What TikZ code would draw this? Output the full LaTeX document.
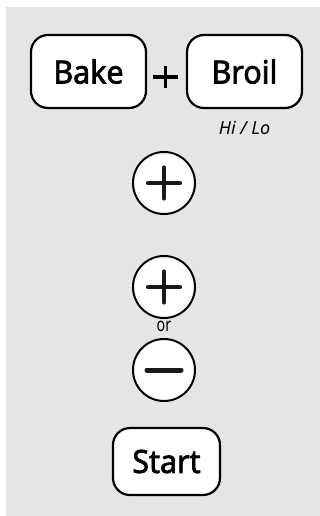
\documentclass[tikz,border=0pt]{standalone}
\usepackage{fontspec}
\setmainfont{Noto Sans}
\newfontfamily\btnfont{Noto Sans}[FakeBold=2.2]
\begin{document}
\begin{tikzpicture}[x=1pt,y=-1pt,
  btn/.style={draw=black,line width=2.2pt,fill=white,rounded corners=17pt,
    minimum width=#1,minimum height=73pt,inner sep=0pt,font=\btnfont\fontsize{32}{32}\selectfont},
  btn/.default=115pt,
  rbtn/.style={draw=black,line width=2pt,fill=white,circle,minimum size=62pt,inner sep=0pt},
  sym/.style={line width=4.2pt,line cap=round,black!90}]
\useasboundingbox (0,0) rectangle (320,516);
\fill[black!10] (6,7) rectangle (320,516);
\node[btn] (bake) at (88.5,71.5) {\raisebox{-2pt}{\scalebox{0.95}[1]{Bake}}};
\node[btn] (broil) at (244.5,71.5) {\raisebox{-2pt}{\scalebox{0.95}[1]{Broil}}};
\node (plus) at (165.5,77) {};
\draw[line width=3.4pt] ([xshift=-12.5pt]plus.center) -- ([xshift=12.5pt]plus.center);
\draw[line width=3.4pt] ([yshift=-11pt]plus.center) -- ([yshift=11pt]plus.center);
\node[font=\itshape\fontsize{18}{18}\selectfont] (hilo) at (244.5,128) {Hi / Lo};
\node[rbtn] (c1) at (164,183) {};
\draw[sym] ([xshift=-16pt]c1.center) -- ([xshift=16pt]c1.center);
\draw[sym] ([yshift=-15.5pt]c1.center) -- ([yshift=15.5pt]c1.center);
\node[rbtn] (c2) at (164,287) {};
\draw[sym] ([xshift=-16pt]c2.center) -- ([xshift=16pt]c2.center);
\draw[sym] ([yshift=-15.5pt]c2.center) -- ([yshift=15.5pt]c2.center);
\node[font=\fontsize{19}{19}\selectfont,inner sep=0pt] (or) at (164,326) {\scalebox{0.75}[1]{or}};
\node[rbtn] (c3) at (164,370) {};
\draw[sym,line width=5pt] ([xshift=-17pt]c3.center) -- ([xshift=17pt]c3.center);
\node[btn=107pt,minimum height=67pt] (start) at (166.5,461.5) {\raisebox{-2pt}{\scalebox{0.95}[1]{Start}}};
\end{tikzpicture}
\end{document}
